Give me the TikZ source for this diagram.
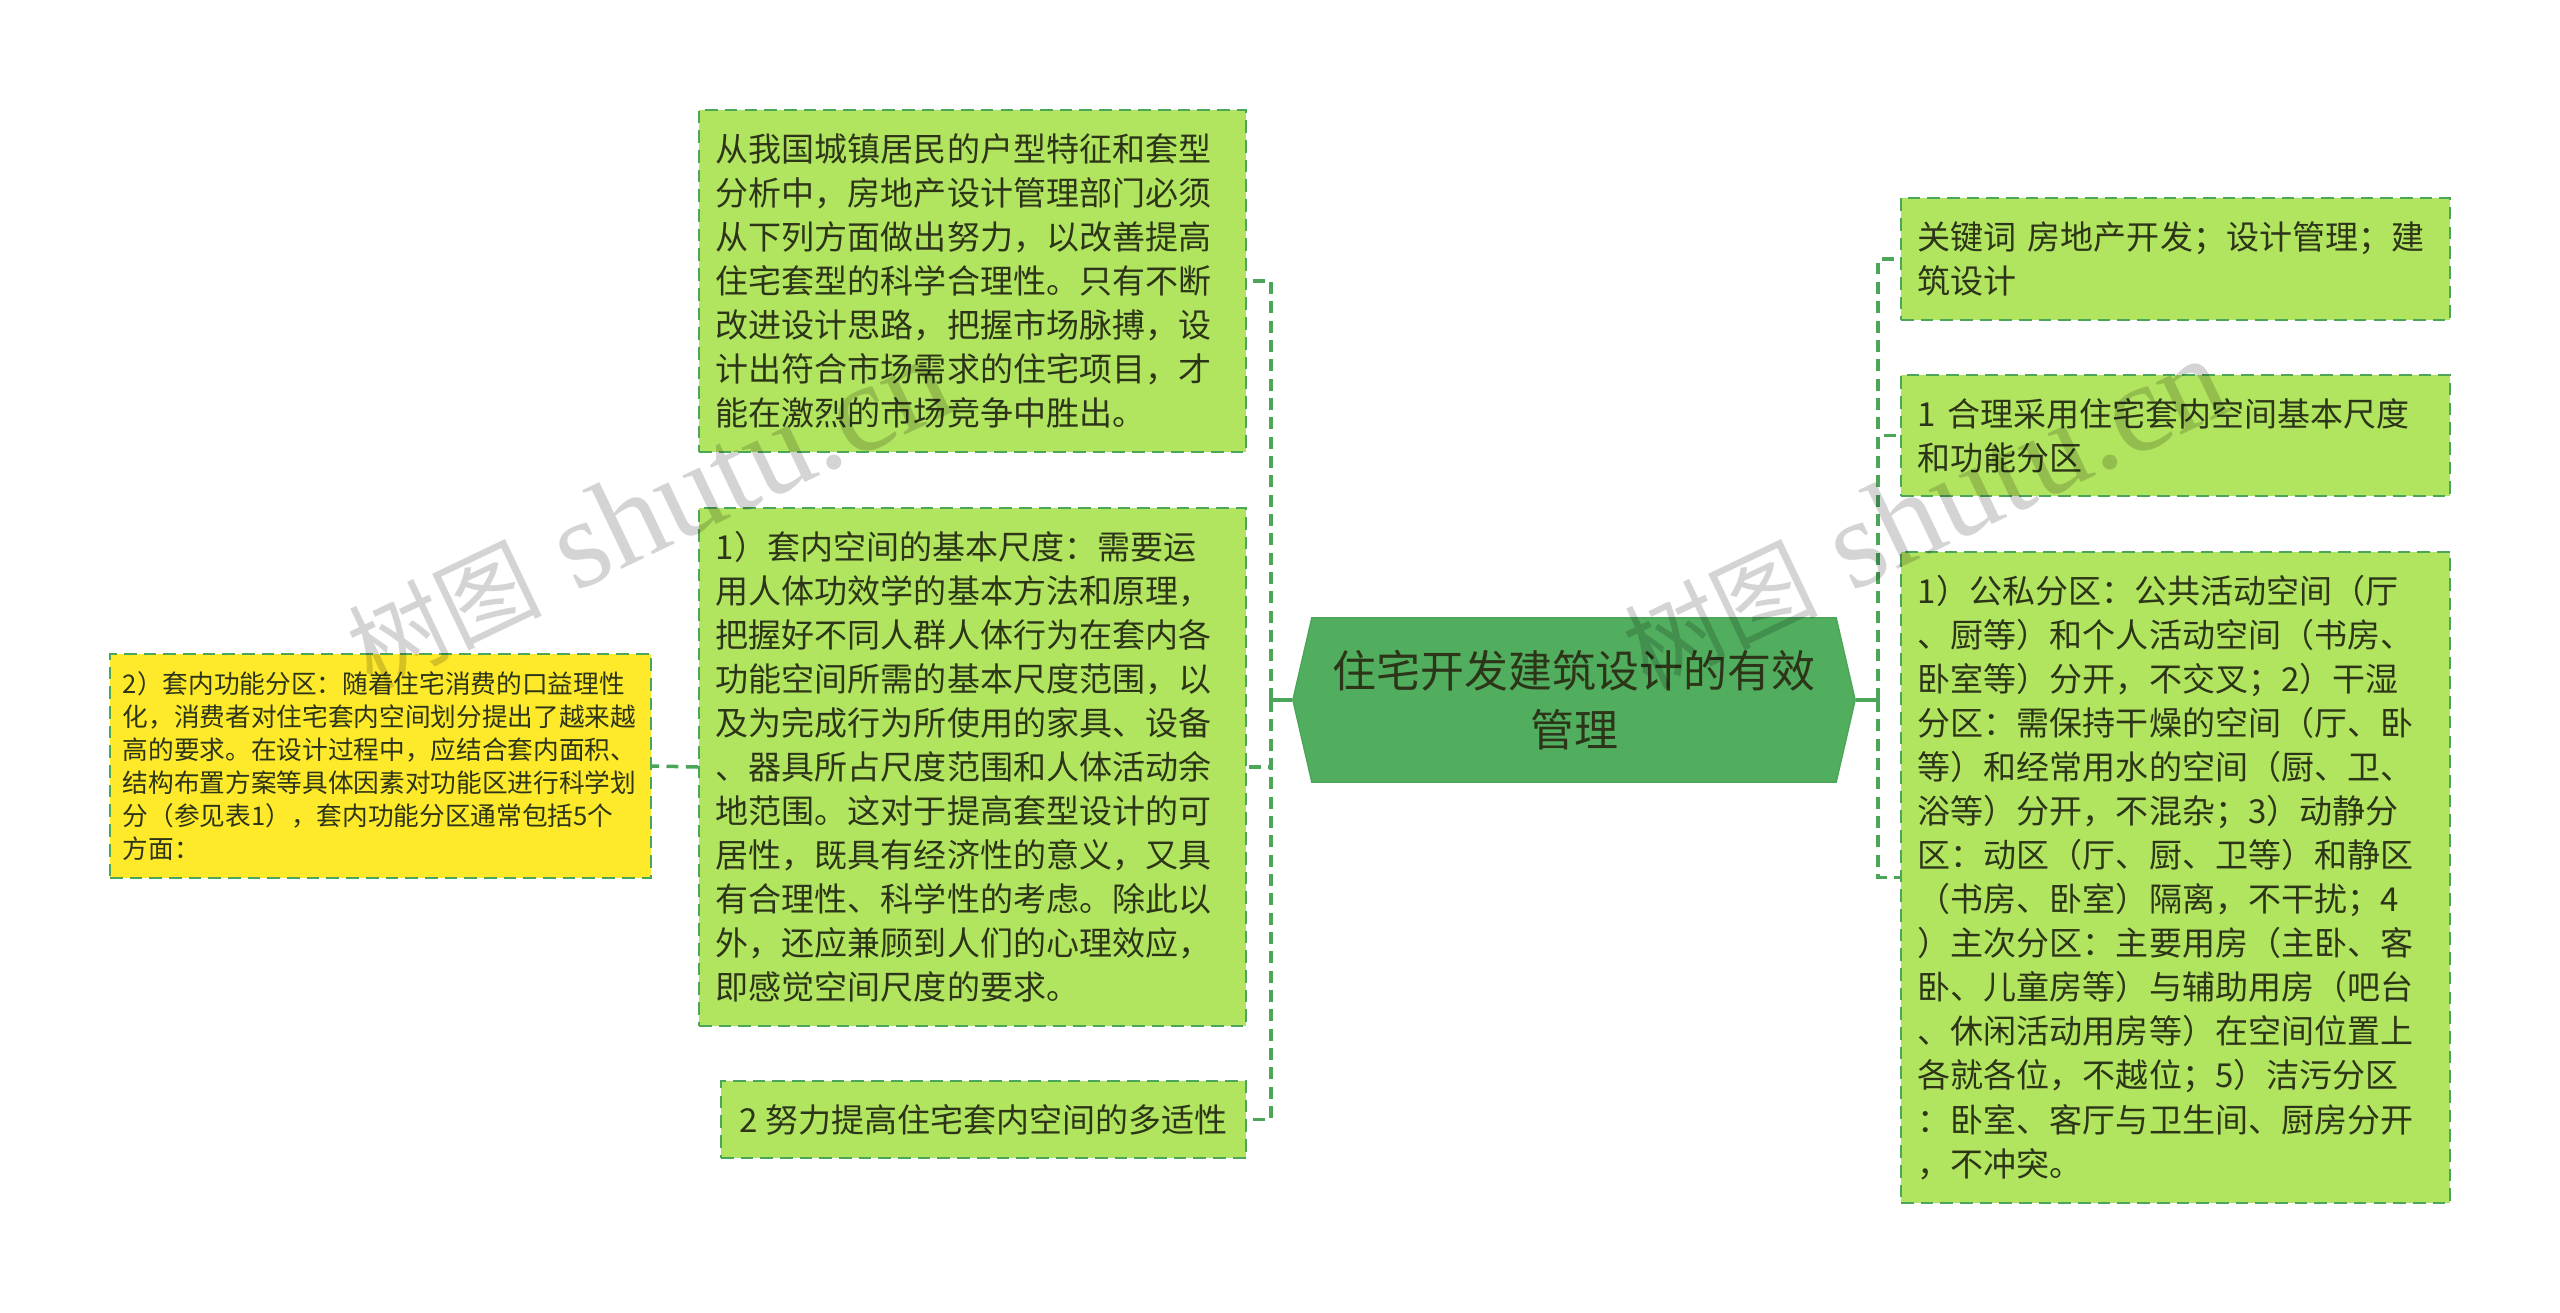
\documentclass[tikz,border=0pt]{standalone}
\usepackage{fontspec}
\setmainfont{Noto Sans CJK SC}
\newfontfamily\markfont{Liberation Serif}
\newfontfamily\markcjk{Noto Sans CJK SC}
\usetikzlibrary{shapes.symbols}
\definecolor{leafgreen}{HTML}{B2E55F}
\definecolor{leafyellow}{HTML}{FFE92B}
\definecolor{rootgreen}{HTML}{51AE5E}
\definecolor{linkgreen}{HTML}{4BA65A}
\definecolor{inkdark}{HTML}{2D3519}
\def\px{0.28453pt}

\begin{document}
\begin{tikzpicture}[x=0.01cm,y=-0.01cm,line width=1pt,draw=linkgreen]
    \tikzstyle{link}=[dash pattern=on 3.4pt off 2.1pt]
    \tikzstyle{stem}=[line width=1.2pt]
    \tikzstyle{topic}=[rectangle,fill=leafgreen,draw=linkgreen,line width=0.6pt,dash pattern=on 3.6pt off 2pt,
        text=inkdark,align=left,inner ysep=0pt,inner xsep=17*\px,font=\fontsize{9.39}{12.52}\selectfont]
    \tikzstyle{note}=[topic,fill=leafyellow,inner xsep=13*\px,font=\fontsize{7.3}{9.4}\selectfont]
    \tikzstyle{root}=[signal,signal to=east and west,signal pointer angle=154,fill=rootgreen,draw=linkgreen,
        line width=0.4pt,inner sep=0pt,minimum width=562*\px,minimum height=164*\px,text=inkdark,align=center,
        font=\fontsize{12.5}{17}\selectfont]
    \tikzstyle{stamp}=[text=black,text opacity=0.17,rotate=25.5,inner sep=0pt,font=\fontsize{36}{36}\markfont]

    \useasboundingbox (0,0) rectangle (2560,1313);

    % Draw the middle node
    \node[root] (R) at (1574,700) {住宅开发建筑设计的有效\\管理};

    % Draw the left side nodes
    \node[topic,text width=513*\px,minimum height=342*\px] (L-1) at (972.5,281)
        {从我国城镇居民的户型特征和套型\\分析中，房地产设计管理部门必须\\从下列方面做出努力，以改善提高\\住宅套型的科学合理性。只有不断\\改进设计思路，把握市场脉搏，设\\计出符合市场需求的住宅项目，才\\能在激烈的市场竞争中胜出。};
    \node[topic,text width=513*\px,minimum height=518*\px] (L-2) at (972.5,767)
        {1）套内空间的基本尺度：需要运\\用人体功效学的基本方法和原理，\\把握好不同人群人体行为在套内各\\功能空间所需的基本尺度范围，以\\及为完成行为所使用的家具、设备\\、器具所占尺度范围和人体活动余\\地范围。这对于提高套型设计的可\\居性，既具有经济性的意义，又具\\有合理性、科学性的考虑。除此以\\外，还应兼顾到人们的心理效应，\\即感觉空间尺度的要求。};
    \node[topic,minimum width=525*\px,minimum height=77*\px] (L-3) at (983.5,1119.5)
        {2 努力提高住宅套内空间的多适性};
    \node[note,text width=515*\px,minimum height=224*\px] (N-1) at (380.5,766)
        {2）套内功能分区：随着住宅消费的口益理性\\化，消费者对住宅套内空间划分提出了越来越\\高的要求。在设计过程中，应结合套内面积、\\结构布置方案等具体因素对功能区进行科学划\\分（参见表1），套内功能分区通常包括5个\\方面：};

    % Draw the right side nodes
    \node[topic,text width=515*\px,minimum height=122*\px] (T-1) at (2175.5,259)
        {关键词 房地产开发；设计管理；建\\筑设计};
    \node[topic,text width=515*\px,minimum height=121*\px] (T-2) at (2175.5,435.5)
        {1 合理采用住宅套内空间基本尺度\\和功能分区};
    \node[topic,text width=515*\px,minimum height=651*\px] (T-3) at (2175.5,877.5)
        {1）公私分区：公共活动空间（厅\\、厨等）和个人活动空间（书房、\\卧室等）分开，不交叉；2）干湿\\分区：需保持干燥的空间（厅、卧\\等）和经常用水的空间（厨、卫、\\浴等）分开，不混杂；3）动静分\\区：动区（厅、厨、卫等）和静区\\（书房、卧室）隔离，不干扰；4\\）主次分区：主要用房（主卧、客\\卧、儿童房等）与辅助用房（吧台\\、休闲活动用房等）在空间位置上\\各就各位，不越位；5）洁污分区\\：卧室、客厅与卫生间、厨房分开\\，不冲突。};

    % Connect the middle node with every node on both sides
    \coordinate (LT) at (1271,700);
    \coordinate (RT) at (1878,700);
    \draw[stem] (R.west) -- (LT);
    \draw[stem] (R.east) -- (RT);
    \draw[link] (LT) |- (L-1.east);
    \draw[link] (LT) |- (L-2.east);
    \draw[link] (LT) |- (L-3.east);
    \draw[link] (RT) |- (T-1.west);
    \draw[link] (RT) |- (T-2.west);
    \draw[link] (RT) |- (T-3.west);
    \draw[link] (L-2.west) -- (N-1.east);

    % Watermarks go over everything
    \node[stamp] (M-1) at (648,513) {{\markcjk\fontsize{27.6}{36}\selectfont 树图} shutu.cn};
    \node[stamp] (M-2) at (1924,513) {{\markcjk\fontsize{27.6}{36}\selectfont 树图} shutu.cn};
\end{tikzpicture}
\end{document}
